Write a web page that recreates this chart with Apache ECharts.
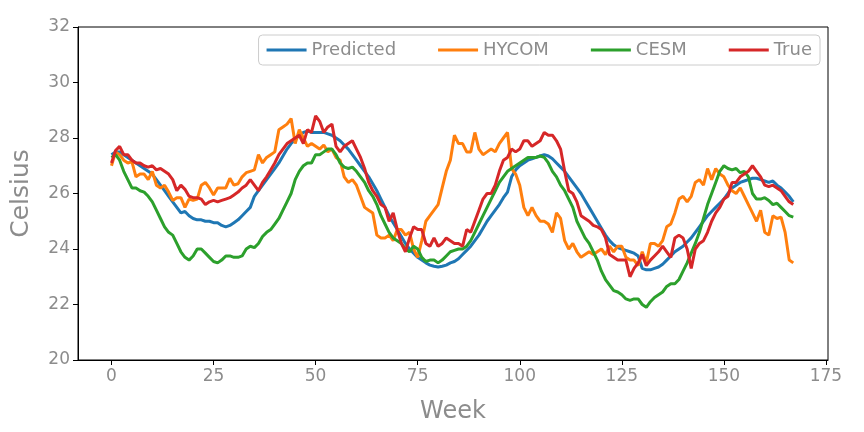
<!DOCTYPE html><html><head><meta charset="utf-8"><script src="https://cdn.jsdelivr.net/npm/echarts@6/dist/echarts.min.js"></script></head><body style="margin:0"><div id="c" style="width:864px;height:432px"></div><script>
const predicted=[27.4,27.5,27.5,27.4,27.3,27.2,27.1,27.0,26.9,26.8,26.7,26.5,26.3,26.1,25.9,25.7,25.5,25.3,25.35,25.2,25.1,25.05,25.05,25.0,25.0,24.95,24.95,24.85,24.8,24.85,24.95,25.05,25.2,25.35,25.5,25.9,26.1,26.3,26.5,26.7,26.9,27.1,27.35,27.6,27.8,27.95,28.1,28.2,28.25,28.2,28.2,28.2,28.2,28.15,28.1,28.0,27.9,27.75,27.6,27.4,27.2,27.0,26.8,26.6,26.35,26.1,25.8,25.5,25.2,24.95,24.7,24.45,24.2,24.0,23.85,23.7,23.6,23.5,23.42,23.38,23.35,23.38,23.42,23.5,23.55,23.65,23.8,23.95,24.1,24.3,24.5,24.75,25.0,25.2,25.4,25.6,25.85,26.05,26.6,26.85,27.0,27.1,27.2,27.25,27.3,27.35,27.4,27.35,27.25,27.1,26.95,26.8,26.6,26.4,26.2,26.0,25.75,25.5,25.25,25.0,24.75,24.5,24.3,24.15,24.05,24.0,23.95,23.9,23.85,23.75,23.3,23.25,23.25,23.3,23.35,23.45,23.6,23.75,23.9,24.0,24.1,24.25,24.4,24.6,24.8,25.0,25.2,25.35,25.5,25.65,25.8,26.0,26.2,26.3,26.4,26.45,26.5,26.55,26.55,26.5,26.45,26.4,26.45,26.3,26.2,26.05,25.9,25.7];
const hycom=[27.0,27.5,27.4,27.2,27.1,27.15,26.6,26.7,26.7,26.5,26.8,26.3,26.2,26.3,26.05,25.75,25.85,25.85,25.5,25.8,25.75,25.8,26.3,26.4,26.2,25.95,26.2,26.2,26.2,26.55,26.3,26.35,26.6,26.75,26.8,26.85,27.4,27.1,27.3,27.4,27.5,28.3,28.4,28.5,28.7,27.8,28.3,28.0,27.7,27.8,27.7,27.6,27.75,27.5,27.6,27.3,27.2,26.6,26.4,26.5,26.3,25.9,25.5,25.4,25.3,24.5,24.4,24.4,24.5,24.3,24.7,24.7,24.5,24.6,24.0,23.7,24.3,25.0,25.2,25.4,25.6,26.2,26.8,27.2,28.1,27.8,27.8,27.5,27.5,28.2,27.6,27.4,27.5,27.6,27.5,27.8,28.0,28.2,26.9,26.7,26.3,25.5,25.2,25.5,25.2,25.0,25.0,24.9,24.6,25.3,25.1,24.3,24.0,24.2,23.9,23.7,23.8,23.9,23.8,23.9,24.0,23.8,24.1,23.9,24.1,24.1,23.7,23.6,23.6,23.4,23.9,23.5,24.2,24.2,24.1,24.3,24.8,24.9,25.3,25.8,25.9,25.7,25.9,26.4,26.5,26.3,26.9,26.5,26.9,26.7,26.6,26.3,26.1,26.0,26.2,25.9,25.6,25.3,25.0,25.4,24.6,24.5,25.2,25.1,25.15,24.6,23.6,23.5];
const cesm=[27.3,27.4,27.2,26.8,26.5,26.2,26.2,26.1,26.05,25.9,25.7,25.4,25.1,24.8,24.6,24.5,24.2,23.9,23.7,23.6,23.75,24.0,24.0,23.85,23.7,23.55,23.5,23.6,23.75,23.75,23.7,23.7,23.75,24.0,24.1,24.05,24.2,24.45,24.6,24.7,24.9,25.1,25.4,25.7,26.0,26.5,26.8,27.0,27.1,27.1,27.4,27.4,27.5,27.6,27.6,27.4,27.1,26.95,26.9,26.95,26.8,26.6,26.4,26.1,25.9,25.6,25.2,24.9,24.6,24.4,24.3,24.2,24.0,23.9,24.1,24.0,23.7,23.55,23.6,23.6,23.5,23.6,23.75,23.9,23.95,24.0,24.0,24.1,24.3,24.6,24.9,25.2,25.5,25.8,26.1,26.4,26.6,26.8,26.9,27.0,27.1,27.2,27.3,27.3,27.3,27.35,27.3,27.1,26.8,26.6,26.3,26.1,25.8,25.5,25.0,24.7,24.4,24.2,23.9,23.6,23.2,22.9,22.7,22.5,22.45,22.35,22.2,22.15,22.2,22.2,22.0,21.9,22.1,22.25,22.35,22.45,22.65,22.75,22.75,22.9,23.2,23.5,23.85,24.2,24.6,25.1,25.6,26.0,26.4,26.8,27.0,26.9,26.85,26.9,26.75,26.8,26.6,26.0,25.8,25.8,25.85,25.75,25.6,25.65,25.5,25.35,25.2,25.15];
const truth=[27.1,27.55,27.7,27.4,27.4,27.2,27.1,27.1,27.0,26.95,27.0,26.85,26.9,26.8,26.7,26.5,26.1,26.3,26.15,25.9,25.85,25.85,25.8,25.6,25.7,25.75,25.7,25.75,25.8,25.85,25.95,26.05,26.2,26.3,26.5,26.3,26.1,26.4,26.6,26.85,27.1,27.4,27.6,27.8,27.9,28.0,28.1,27.8,28.3,28.2,28.8,28.6,28.2,28.4,28.5,27.7,27.5,27.7,27.8,27.9,27.6,27.3,26.9,26.4,26.1,25.9,25.6,25.5,25.0,25.3,24.7,24.2,23.9,24.4,24.8,24.7,24.7,24.2,24.1,24.4,24.1,24.2,24.4,24.3,24.2,24.2,24.1,24.7,24.6,25.0,25.4,25.8,26.0,26.0,26.3,26.8,27.2,27.3,27.6,27.5,27.6,27.9,27.9,27.7,27.8,27.9,28.2,28.1,28.1,27.9,27.6,26.8,26.1,26.0,25.7,25.2,25.1,25.0,24.85,24.8,24.7,24.4,23.8,23.7,23.6,23.6,23.6,23.0,23.3,23.5,23.8,23.4,23.6,23.75,23.9,24.1,23.9,23.7,24.4,24.5,24.4,24.0,23.3,24.0,24.2,24.3,24.6,25.0,25.3,25.5,25.8,25.9,26.4,26.4,26.6,26.7,26.8,27.0,26.8,26.6,26.3,26.25,26.3,26.2,26.1,25.9,25.7,25.6];
const xTicks=[0,25,50,75,100,125,150,175];
const yTicks=[20,22,24,26,28,30,32];
const names=['Predicted','HYCOM','CESM','True'];
const colors=['#1f77b4','#ff7f0e','#2ca02c','#d62728'];
const all=[predicted,hycom,cesm,truth];
const grey='#8c8c8c';
const ch=echarts.init(document.getElementById('c'));
ch.setOption({
 animation:false,
 grid:{left:78,right:36,top:27,bottom:72,show:true,borderColor:'#000',borderWidth:1},
 legend:{right:44,top:35,itemWidth:40,itemHeight:3,itemGap:42,padding:[6,8],borderColor:'#ccc',borderWidth:1,borderRadius:4,backgroundColor:'#fff',
  icon:'rect',textStyle:{fontSize:18,color:grey,fontFamily:'DejaVu Sans'},data:names},
 xAxis:{type:'value',min:-8.2,max:175.5,name:'Week',nameLocation:'middle',nameGap:40,nameTextStyle:{fontSize:24,color:grey,fontFamily:'DejaVu Sans'},
  axisLine:{onZero:false,lineStyle:{color:'#000'}},splitLine:{show:false},
  axisTick:{customValues:xTicks,length:5,lineStyle:{color:'#000'}},
  axisLabel:{customValues:xTicks,fontSize:17,color:grey,fontFamily:'DejaVu Sans',margin:8}},
 yAxis:{type:'value',min:20,max:32,interval:2,name:'Celsius',nameLocation:'middle',nameGap:44,nameTextStyle:{fontSize:25,color:grey,fontFamily:'DejaVu Sans'},
  axisLine:{show:true,onZero:false,lineStyle:{color:'#000'}},splitLine:{show:false},
  axisTick:{show:true,length:5,lineStyle:{color:'#000'}},
  axisLabel:{fontSize:17,color:grey,fontFamily:'DejaVu Sans',margin:8}},
 series:all.map((d,i)=>({name:names[i],type:'line',showSymbol:false,symbol:'none',color:colors[i],lineStyle:{width:3,color:colors[i]},data:d.map((v,j)=>[j,v])}))
});
</script></body></html>
